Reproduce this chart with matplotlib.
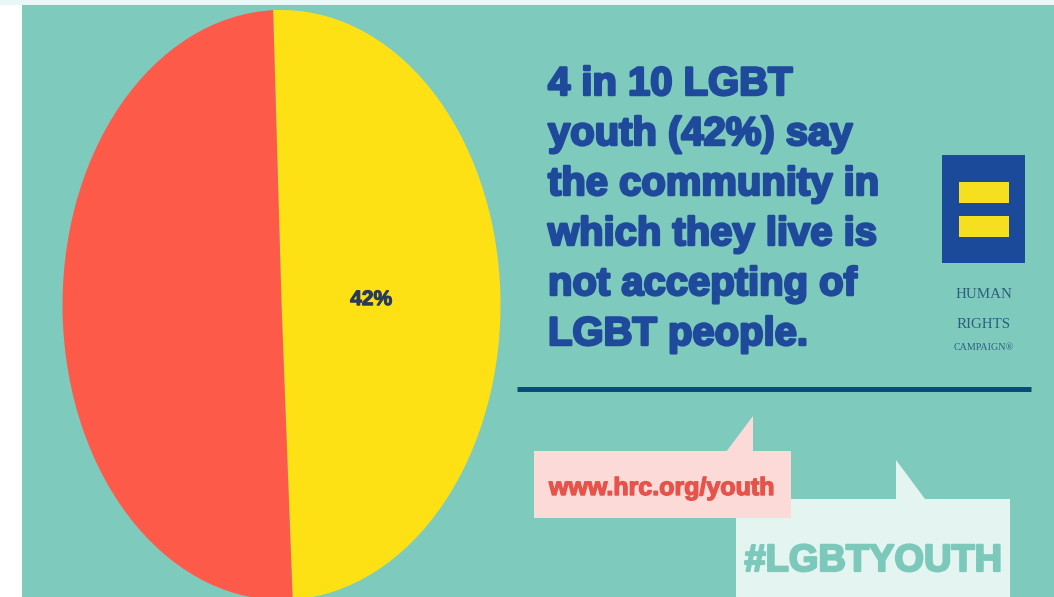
import matplotlib
matplotlib.use("Agg")
import matplotlib.pyplot as plt
import matplotlib.patheffects as pe
from matplotlib import font_manager
from matplotlib.patches import Rectangle, Polygon

# pie data (yellow slice carries the 42% label)
slice_names = ["not accepting", "other"]
slice_values = [49.8, 50.2]
slice_labels = ["42%", ""]
slice_colors = ["#FEE114", "#FD5A4A"]

headline = ["4 in 10 LGBT", "youth (42%) say", "the community in",
            "which they live is", "not accepting of", "LGBT people."]
url_text = "www.hrc.org/youth"
tag_text = "#LGBTYOUTH"
logo_lines = ["HUMAN", "RIGHTS", "CAMPAIGN\u00ae"]

TEAL = "#7ECBBD"
BLUE = "#1F4A9B"

names = {f.name for f in font_manager.fontManager.ttflist}
if "Liberation Sans Narrow" in names:
    cond = "Liberation Sans Narrow"
    head_px, tag_px, url_px, pct_px = 46, 45, 30, 25
else:
    cond = "Liberation Sans"
    head_px, tag_px, url_px, pct_px = 40, 38, 25, 21

def pt(px):
    return px * 0.72

def heavy(color, w=1.5):
    return [pe.withStroke(linewidth=w, foreground=color)]

fig = plt.figure(figsize=(10.54, 5.97), dpi=100, facecolor="white")
bg = fig.add_axes([0, 0, 1, 1])
bg.set_xlim(0, 1054)
bg.set_ylim(597, 0)
bg.axis("off")

bg.add_patch(Rectangle((0, 0), 1054, 5, color="#EAF7F7", lw=0))
bg.add_patch(Rectangle((22, 5), 1032, 592, color=TEAL, lw=0))

# headline
for i, line in enumerate(headline):
    bg.text(548, 95 + i * 50, line, family=cond, weight="bold", fontsize=pt(head_px),
            color=BLUE, ha="left", va="baseline", path_effects=heavy(BLUE, 1.8))

# rule
bg.plot([517, 1031], [389, 389], color="#0C4A7D", lw=3.6, solid_capstyle="butt")

# HRC logo
bg.add_patch(Rectangle((942, 155), 83, 108, color="#1C4A9A", lw=0))
bg.add_patch(Rectangle((959, 182), 50, 21, color="#F6DF1E", lw=0))
bg.add_patch(Rectangle((959, 216), 50, 21, color="#F6DF1E", lw=0))
for txt, y, s in zip(logo_lines, [294, 324, 348], [15, 15, 10]):
    bg.text(983.5, y, txt, family="Liberation Serif", fontsize=pt(s), color="#2E5C7E",
            ha="center", va="center")

# callouts
bg.add_patch(Rectangle((736, 499), 274, 100, color="#E4F4F1", lw=0))
bg.add_patch(Polygon([(896, 499), (896, 460), (925, 499)], closed=True, color="#E4F4F1", lw=0))
bg.add_patch(Rectangle((534, 451), 257, 67, color="#FCDAD8", lw=0))
bg.add_patch(Polygon([(726, 452), (753, 416), (753, 452)], closed=True, color="#FCDAD8", lw=0))
bg.text(549, 488, url_text, family=cond, weight="bold", fontsize=pt(url_px),
        color="#E5534B", ha="left", va="center", path_effects=heavy("#E5534B", 1.0))
bg.text(873, 561, tag_text, family=cond, weight="bold", fontsize=pt(tag_px),
        color="#7CC9BB", ha="center", va="center", path_effects=heavy("#7CC9BB", 1.6))

# stretched pie
pie_ax = fig.add_axes([62.5 / 1054, (597 - 600) / 597, 438 / 1054, 590 / 597])
wedges, texts = pie_ax.pie(slice_values, labels=slice_labels, colors=slice_colors,
                           startangle=92.2, counterclock=False, labeldistance=0.41,
                           wedgeprops={"linewidth": 0})
for t in texts:
    t.set(family=cond, weight="bold", fontsize=pt(pct_px), color="#2A3B5A",
          ha="center", va="center", path_effects=heavy("#2A3B5A", 0.8))
pie_ax.set_aspect("auto")
pie_ax.set_xlim(-1, 1)
pie_ax.set_ylim(-1, 1)
pie_ax.axis("off")

fig.savefig("out.png", dpi=100, facecolor="white")
